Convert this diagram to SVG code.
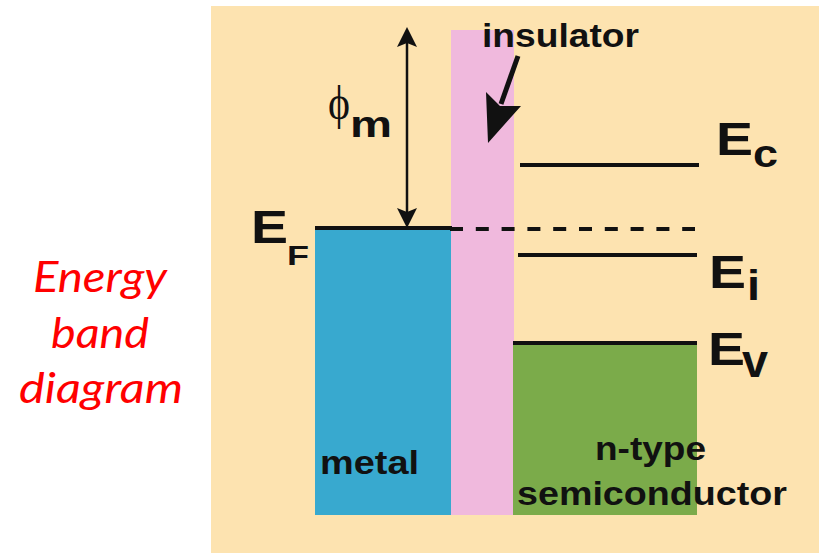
<svg xmlns="http://www.w3.org/2000/svg" width="819" height="553" viewBox="0 0 819 553">
  <style>
    .lbl { font-family: "Liberation Sans", Arial, sans-serif; font-weight: bold; fill: #111; }
    .red { font-family: Lato, "Open Sans", "Liberation Sans", sans-serif; font-style: italic; fill: #ff0000; font-size: 42px; text-anchor: middle; }
    .lvl { stroke: #111; stroke-width: 4; fill: none; }
    .ln { stroke: #111; fill: none; }
    .head { fill: #111; }
  </style>
  <rect x="0" y="0" width="819" height="553" fill="#ffffff"/>
  <g id="background">
    <rect x="211" y="6" width="608" height="547" fill="#fde3b0"/>
  </g>
  <g id="caption">
    <text class="red" x="100" y="292" textLength="134" lengthAdjust="spacingAndGlyphs">Energy</text>
    <text class="red" x="100" y="348" textLength="98" lengthAdjust="spacingAndGlyphs">band</text>
    <text class="red" x="101" y="403" textLength="164" lengthAdjust="spacingAndGlyphs">diagram</text>
  </g>
  <g id="metal">
    <rect x="315" y="228" width="137" height="287" fill="#38a9cf"/>
    <text class="lbl" x="320" y="474" font-size="34" textLength="99" lengthAdjust="spacingAndGlyphs">metal</text>
  </g>
  <g id="insulator">
    <rect x="451" y="30" width="63" height="485" fill="#f0b9dd"/>
    <text class="lbl" x="482" y="47" font-size="34" textLength="157" lengthAdjust="spacingAndGlyphs">insulator</text>
  </g>
  <g id="semiconductor">
    <rect x="513" y="343" width="184" height="172" fill="#7bab4a"/>
    <text class="lbl" x="595" y="460" font-size="34" textLength="111" lengthAdjust="spacingAndGlyphs">n-type</text>
    <text class="lbl" x="517" y="505" font-size="34" textLength="270" lengthAdjust="spacingAndGlyphs">semiconductor</text>
  </g>
  <g id="levels">
    <line class="lvl" x1="315" y1="228" x2="452" y2="228"/>
    <line class="lvl" x1="450" y1="229" x2="695" y2="229" stroke-width="3" stroke-dasharray="13 12.8"/>
    <line class="lvl" x1="520" y1="165" x2="699" y2="165"/>
    <line class="lvl" x1="518" y1="255" x2="697" y2="255"/>
    <line class="lvl" x1="513" y1="343" x2="697" y2="343"/>
  </g>
  <g id="level-labels">
    <text class="lbl" x="251" y="243" font-size="46" textLength="37" lengthAdjust="spacingAndGlyphs">E</text>
    <text class="lbl" x="287" y="265" font-size="28" textLength="22" lengthAdjust="spacingAndGlyphs">F</text>
    <text class="lbl" x="716" y="155" font-size="47" textLength="37" lengthAdjust="spacingAndGlyphs">E</text>
    <text class="lbl" x="753" y="167" font-size="38" textLength="25" lengthAdjust="spacingAndGlyphs">c</text>
    <text class="lbl" x="709" y="288" font-size="47" textLength="37" lengthAdjust="spacingAndGlyphs">E</text>
    <text class="lbl" x="747" y="300" font-size="42" textLength="13" lengthAdjust="spacingAndGlyphs">i</text>
    <text class="lbl" x="708" y="365" font-size="47" textLength="37" lengthAdjust="spacingAndGlyphs">E</text>
    <text class="lbl" x="742" y="377" font-size="46" textLength="26" lengthAdjust="spacingAndGlyphs">v</text>
    <text x="328" y="119" font-family="'Liberation Serif', 'DejaVu Serif', serif" font-size="48" fill="#111" textLength="22" lengthAdjust="spacingAndGlyphs">ϕ</text>
    <text class="lbl" x="350" y="137" font-size="36" textLength="42" lengthAdjust="spacingAndGlyphs">m</text>
  </g>
  <g id="connectors">
    <line class="ln" x1="407" y1="42" x2="407" y2="214" stroke-width="2.5"/>
    <polygon class="head" points="407,27 417,47 407,43 397,47"/>
    <polygon class="head" points="407,228 417,208 407,212 397,208"/>
    <line class="ln" x1="518" y1="56" x2="501" y2="104" stroke-width="5"/>
    <polygon class="head" points="488,143 486,92 500,106 521,106"/>
  </g>
</svg>
